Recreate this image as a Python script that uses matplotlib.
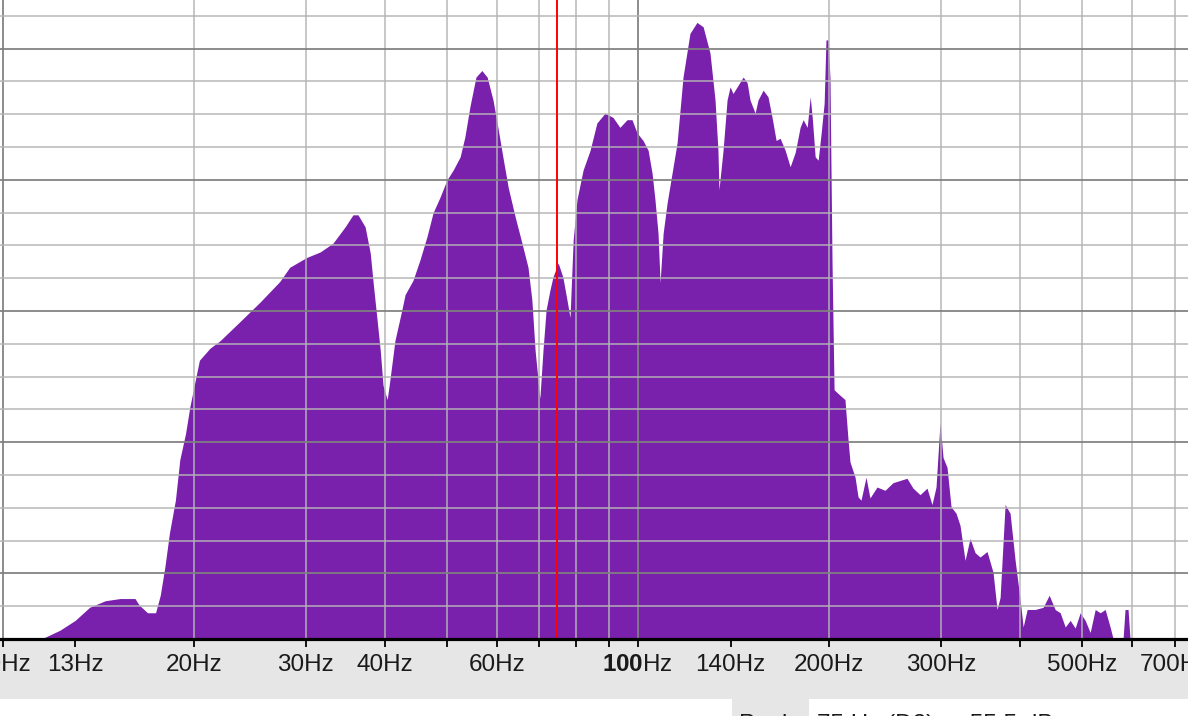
import matplotlib.pyplot as plt
from matplotlib.patches import Rectangle
from matplotlib.ticker import NullLocator

plt.rcParams['font.family'] = ['Liberation Sans', 'DejaVu Sans']
plt.rcParams['mathtext.fontset'] = 'custom'
plt.rcParams['mathtext.rm'] = 'Liberation Sans'
plt.rcParams['mathtext.bf'] = 'Liberation Sans:bold'

# spectrum outline
freq_hz = [
    11.5, 12.3, 13.0, 13.7, 14.5, 15.3, 16.15, 16.4, 16.9, 17.4,
    17.7, 18.0, 18.3, 18.7, 19.0, 19.4, 19.7, 20.1, 20.4, 21.2,
    22.0, 23.6, 25.4, 27.3, 28.3, 30.1, 31.6, 33.1, 34.6, 35.6,
    36.25, 37.2, 37.9, 38.3, 38.8, 39.3, 39.7, 40.3, 40.7, 41.45,
    42.5, 43.0, 44.25, 45.4, 46.55, 47.6, 48.8, 50.05, 51.2, 52.5,
    53.4, 54.4, 55.6, 56.8, 57.9, 59.15, 60.2, 61.3, 62.5, 64.1,
    65.7, 67.15, 68.1, 68.9, 70.1, 70.9, 71.7, 72.7, 73.5, 74.9,
    76.2, 77.35, 78.2, 79.1, 80.2, 82.0, 84.1, 86.2, 88.8, 91.4,
    93.7, 96.15, 97.9, 99.7, 101.9, 103.8, 105.3, 106.4, 107.6, 108.4,
    109.6, 111.2, 113.2, 115.3, 117.8, 120.8, 123.9, 126.7, 129.9, 132.3,
    133.7, 134.2, 136.2, 138.2, 139.7, 141.2, 143.3, 146.5, 148.6, 150.2,
    153.0, 154.6, 157.5, 160.3, 162.7, 165.1, 167.5, 170.6, 173.7, 176.9,
    180.1, 182.1, 184.8, 186.8, 188.2, 190.2, 192.3, 194.4, 196.5, 197.8,
    199.3, 200.7, 202.2, 203.7, 208.1, 211.9, 214.3, 215.8, 219.8, 222.2,
    224.6, 228.7, 232.0, 238.0, 245.0, 252.2, 258.7, 265.3, 271.2, 278.2,
    285.3, 290.5, 294.8, 299.1, 302.4, 306.8, 311.3, 317.0, 321.6, 327.5,
    333.5, 339.6, 345.8, 354.7, 362.5, 367.8, 371.9, 378.7, 385.6, 392.7,
    399.9, 404.3, 410.2, 422.2, 434.7, 444.3, 454.0, 462.4, 470.9, 479.5,
    488.2, 497.2, 506.3, 515.5, 525.0, 534.6, 544.3, 554.2, 560.3, 580.8,
    585.0, 591.4, 595.7,
]
level_db = [
    -90.0, -89.2, -88.3, -87.1, -86.5, -86.3, -86.3, -86.9, -87.6, -87.6,
    -86.0, -83.4, -80.3, -77.3, -73.6, -71.2, -68.8, -66.3, -64.5, -63.4,
    -62.7, -61.0, -59.2, -57.3, -56.0, -55.1, -54.6, -53.8, -52.3, -51.2,
    -51.2, -52.3, -54.7, -57.4, -60.5, -63.6, -66.8, -68.1, -66.3, -62.7,
    -59.9, -58.5, -57.2, -55.3, -53.2, -51.0, -49.6, -48.0, -47.1, -45.9,
    -44.1, -41.3, -38.6, -38.0, -38.6, -40.7, -43.2, -45.9, -48.7, -51.4,
    -53.8, -56.0, -59.0, -63.6, -68.0, -63.6, -59.9, -58.1, -56.9, -55.6,
    -56.9, -59.0, -60.6, -53.5, -49.8, -47.1, -45.3, -42.8, -41.9, -42.3,
    -43.2, -42.5, -42.5, -43.7, -44.4, -45.3, -47.4, -49.8, -52.9, -57.4,
    -52.9, -50.1, -47.4, -44.6, -38.6, -34.6, -33.6, -34.0, -36.4, -40.7,
    -45.3, -48.9, -45.3, -40.7, -39.5, -40.1, -39.5, -38.6, -39.1, -40.7,
    -41.9, -40.7, -39.8, -40.4, -42.3, -44.4, -44.2, -45.3, -46.8, -45.5,
    -43.2, -42.5, -43.2, -40.4, -42.3, -45.9, -46.2, -43.7, -41.0, -35.2,
    -35.2, -38.7, -55.6, -67.2, -67.7, -68.1, -71.8, -73.8, -75.2, -77.0,
    -77.3, -75.2, -77.1, -76.1, -76.4, -75.7, -75.5, -75.3, -76.2, -76.8,
    -76.2, -77.7, -76.1, -70.2, -73.4, -74.3, -77.9, -78.5, -79.6, -82.8,
    -80.8, -82.1, -82.5, -82.0, -83.9, -87.3, -86.2, -77.7, -78.5, -82.8,
    -86.4, -88.9, -87.3, -87.3, -87.1, -86.0, -87.3, -87.6, -88.9, -88.3,
    -89.0, -87.6, -88.3, -89.4, -87.3, -87.6, -87.3, -88.9, -90.0, -90.0,
    -87.3, -87.3, -90.0,
]

cursor_hz = 74.6
peak_name = "Peak:"
peak_text = "75 Hz (D2) = -55.5 dB"

tick_hz = [10, 13, 20, 30, 40, 50, 60, 70, 80, 90, 100, 140,
           200, 300, 400, 500, 600, 700]
label_hz = [10, 13, 20, 30, 40, 60, 100, 140, 200, 300, 500, 700]
minor_grid_hz = [20, 30, 40, 50, 60, 70, 80, 90, 200, 300, 400, 500, 600, 700]
major_grid_hz = [10, 100]
minor_grid_db = [-87, -81, -78, -75, -69, -66, -63, -57, -54, -51, -45, -42, -39, -33]
major_grid_db = [-84, -72, -60, -48, -36]

W, H = 1188, 716
fig = plt.figure(figsize=(W / 100, H / 100), dpi=100)
ax = fig.add_axes([0, 77 / H, 1, 639 / H])

ax.set_xscale('log')
ax.set_xlim(9.9, 735)
ax.set_ylim(-90, -31.55)

ax.fill_between(freq_hz, level_db, -95, color='#7920ad', lw=0, zorder=1)

for f in minor_grid_hz:
    ax.axvline(f, color='#b4b4b4', alpha=0.75, lw=1.4, zorder=2)
for f in major_grid_hz:
    ax.axvline(f, color='#808080', alpha=0.9, lw=1.4, zorder=2)
for d in minor_grid_db:
    ax.axhline(d, color='#b4b4b4', alpha=0.75, lw=1.4, zorder=2)
for d in major_grid_db:
    ax.axhline(d, color='#808080', alpha=0.9, lw=1.4, zorder=2)

ax.axvline(cursor_hz, color='#ff0000', lw=1.4, zorder=3)

for s in ['top', 'left', 'right']:
    ax.spines[s].set_visible(False)
ax.spines['bottom'].set_linewidth(2.3)
ax.spines['bottom'].set_color('black')
ax.spines['bottom'].set_zorder(4)

ax.set_xticks(tick_hz)
ax.xaxis.set_minor_locator(NullLocator())
ax.tick_params(axis='x', which='both', direction='out', length=6, width=1.3,
               color='black', labelbottom=False)
ax.set_yticks([])

xtrans = ax.get_xaxis_transform()
for f in label_hz:
    txt = r"$\mathbf{100}$Hz" if f == 100 else f"{f}Hz"
    ax.text(f, -32 / 639, txt, transform=xtrans, ha='center', va='baseline',
            fontsize=17.5, color='#1a1a1a', clip_on=False)

# grey strip below the axis and the clipped peak readout
fig.add_artist(Rectangle((0, 17 / H), 1, 60 / H, transform=fig.transFigure,
                         facecolor='#e6e6e6', edgecolor='none', zorder=0))
fig.add_artist(Rectangle((732 / W, 0), 77 / W, 17 / H, transform=fig.transFigure,
                         facecolor='#e6e6e6', edgecolor='none', zorder=0))
fig.text(739 / W, -15 / H, peak_name, fontsize=17.5, color='#1a1a1a', va='baseline')
fig.text(817 / W, -15 / H, peak_text, fontsize=17.5, color='#1a1a1a', va='baseline')

fig.savefig('out.png', dpi=100)
